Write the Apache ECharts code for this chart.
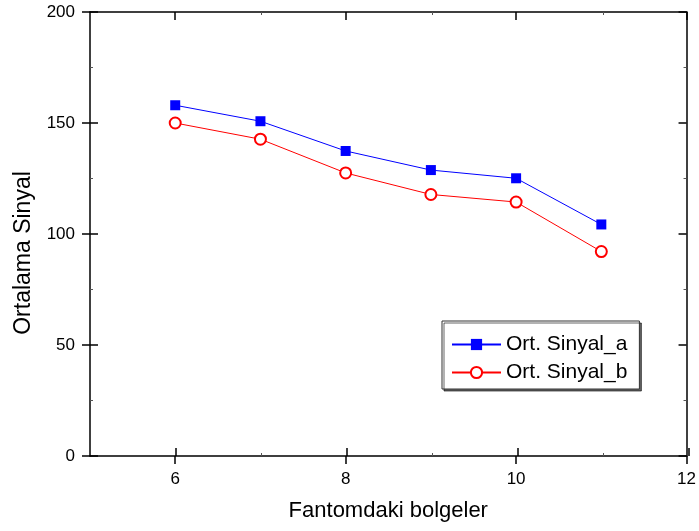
<!DOCTYPE html>
<html>
<head>
<meta charset="utf-8">
<title>Ortalama Sinyal</title>
<script src="https://cdn.jsdelivr.net/npm/echarts@6/dist/echarts.min.js"></script>
<style>
  html, body { margin: 0; padding: 0; background: #fff; }
  #chart { width: 699px; height: 531px; }
</style>
</head>
<body>
<div id="chart"></div>
<script>
// data
const regions = [6, 7, 8, 9, 10, 11]
const sinyalA = [158.0, 150.8, 137.4, 128.8, 125.1, 104.3]
const sinyalB = [150.0, 142.7, 127.5, 117.8, 114.4, 92.1]
const xMajor = [6, 8, 10, 12]
const xMinor = [7, 9, 11]

const font = 'Liberation Sans, Arial, sans-serif'
const black = '#000'

// every grid has the same box, extra grids only carry the inner ticks
const box = { left: 90, right: 10, top: 12, bottom: 75 }

function xAx(grid, pos, opts) {
  return Object.assign({
    type: 'value', gridIndex: grid, position: pos,
    min: 5, max: 12, interval: 1,
    axisLine: { show: false, onZero: false },
    axisTick: { show: false },
    axisLabel: { show: false },
    splitLine: { show: false }
  }, opts)
}
function yAx(grid, pos, opts) {
  return Object.assign({
    type: 'value', gridIndex: grid, position: pos,
    min: 0, max: 200, interval: 50,
    axisLine: { show: false, onZero: false },
    axisTick: { show: false },
    axisLabel: { show: false },
    splitLine: { show: false }
  }, opts)
}
function line() {
  return { show: true, onZero: false, lineStyle: { color: black, width: 1.5 } }
}
function majorTick(inside) {
  return { show: true, inside: inside, length: 8, customValues: xMajor.slice(), lineStyle: { color: black, width: 1.5 } }
}
function minorTick() {
  return { show: true, inside: true, length: 3, customValues: xMinor.slice(), lineStyle: { color: '#555', width: 1 } }
}

const chart = echarts.init(document.getElementById('chart'))

let option = {
  animation: false,
  textStyle: { fontFamily: font },
  grid: [Object.assign({}, box), Object.assign({}, box), Object.assign({}, box)],
  legend: {
    left: 442,
    top: 321,
    orient: 'vertical',
    padding: [13, 12, 6, 9],
    itemWidth: 49,
    itemHeight: 14,
    itemGap: 7,
    borderColor: '#333',
    borderWidth: 1,
    backgroundColor: '#fff',
    shadowColor: 'rgba(0,0,0,0.6)',
    shadowOffsetX: 2,
    shadowOffsetY: 2,
    shadowBlur: 0,
    textStyle: { fontFamily: font, fontSize: 21, lineHeight: 21, color: black },
    data: ['Ort. Sinyal_a', 'Ort. Sinyal_b']
  },
  xAxis: [
    xAx(0, 'bottom', {
      name: 'Fantomdaki bolgeler',
      nameLocation: 'middle',
      nameGap: 44,
      nameTextStyle: { fontFamily: font, fontSize: 22, color: black },
      axisLine: line(),
      axisTick: majorTick(false),
      axisLabel: { show: true, margin: 15, customValues: xMajor.slice(), fontFamily: font, fontSize: 17, color: black }
    }),
    xAx(0, 'top', { axisLine: line(), axisTick: majorTick(true) }),
    xAx(1, 'bottom', { axisTick: majorTick(true) }),
    xAx(1, 'top', { axisTick: minorTick() }),
    xAx(2, 'bottom', { axisTick: minorTick() })
  ],
  yAxis: [
    yAx(0, 'left', {
      name: 'Ortalama Sinyal',
      nameLocation: 'middle',
      nameGap: 55,
      nameTextStyle: { fontFamily: font, fontSize: 23, color: black, padding: [0, 38, 0, 0] },
      axisLine: line(),
      axisTick: { show: true, inside: false, length: 8, lineStyle: { color: black, width: 1.5 } },
      axisLabel: { show: true, margin: 15, fontFamily: font, fontSize: 17, color: black }
    }),
    yAx(0, 'right', {
      axisLine: line(),
      axisTick: { show: true, inside: true, length: 8, lineStyle: { color: black, width: 1.5 } },
      minorTick: { show: true, splitNumber: 2, length: 3, lineStyle: { color: '#555', width: 1 } }
    }),
    yAx(1, 'left', {
      axisTick: { show: true, inside: true, length: 8, lineStyle: { color: black, width: 1.5 } },
      minorTick: { show: true, splitNumber: 2, length: 3, lineStyle: { color: '#555', width: 1 } }
    }),
    yAx(2, 'left', {})
  ],
  series: [
    {
      name: 'Ort. Sinyal_a',
      type: 'line',
      xAxisIndex: 0,
      yAxisIndex: 0,
      data: regions.map((r, i) => [r, sinyalA[i]]),
      symbol: 'rect',
      symbolSize: 10,
      lineStyle: { color: '#0000ff', width: 1 },
      itemStyle: { color: '#0000ff' },
      z: 5
    },
    {
      name: 'Ort. Sinyal_b',
      type: 'line',
      xAxisIndex: 0,
      yAxisIndex: 0,
      data: regions.map((r, i) => [r, sinyalB[i]]),
      symbol: 'emptyCircle',
      symbolSize: 11,
      lineStyle: { color: '#ff0000', width: 1 },
      itemStyle: { color: '#ff0000', borderColor: '#ff0000', borderWidth: 1 },
      z: 4
    }
  ]
}
chart.setOption(option)
</script>
</body>
</html>
